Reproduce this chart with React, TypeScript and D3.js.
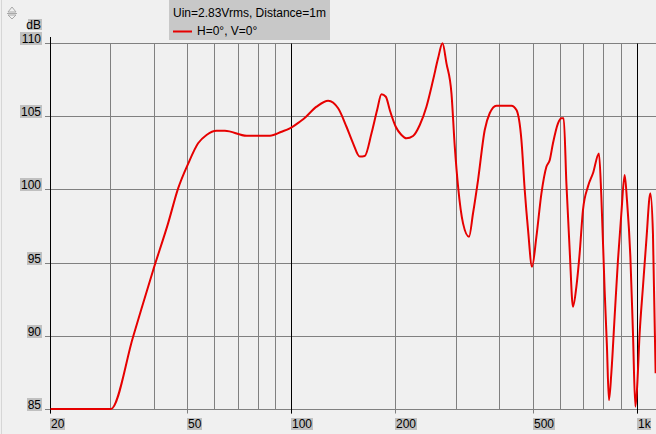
import React from "react";
import * as d3 from "d3";

const freqs = [20, 30.1, 34.9, 39.9, 44.05, 47.1, 50.4, 53.8, 56.9, 60.8, 64.3, 74.3, 86.8, 93.8, 99.1, 105.9, 108.3, 118.4, 127.9, 136.7, 144.5, 151, 157.9, 163.2, 170.7, 177.2, 182.4, 187.8, 192.8, 200.6, 208.4, 215.3, 225.1, 235.4, 246.1, 257.2, 265.9, 273.8, 281.2, 290.7, 297.2, 303.8, 314, 326.8, 335.6, 347, 362.8, 375, 392.2, 433.5, 448.2, 463.2, 473.5, 484.1, 497.1, 511.8, 529.2, 547, 559.4, 571.5, 590.9, 604.4, 613.8, 624.9, 638.7, 652.9, 667.8, 682.6, 697.8, 721.3, 745.9, 776.2, 788.7, 806.1, 818.6, 829.5, 842.9, 861.6, 881, 901.1, 921, 935.4, 956.8, 973.5, 989.1, 999.7, 1017.8, 1040.5, 1064.3, 1093, 1112, 1132];
const levels = [85, 85, 89.94, 94.5, 97.68, 100.07, 101.78, 103.15, 103.72, 104.01, 104.01, 103.67, 103.67, 103.94, 104.17, 104.62, 104.79, 105.65, 106.06, 105.54, 104.28, 103.15, 102.24, 102.28, 103.83, 105.42, 106.5, 106.33, 105.42, 104.28, 103.72, 103.49, 103.65, 104.4, 105.65, 107.47, 108.95, 109.98, 108.61, 106.56, 102.92, 100.19, 97.68, 96.77, 98.37, 100.64, 104.06, 105.2, 105.72, 105.72, 105.42, 103.37, 99.96, 97.23, 94.72, 96.77, 99.73, 101.55, 102.01, 103.15, 104.51, 104.86, 104.86, 100.41, 95.86, 91.99, 93.35, 95.63, 98.59, 100.19, 101.1, 102.46, 99.5, 93.13, 89.26, 85.61, 87.44, 91.3, 95.18, 98.37, 100.98, 99.27, 95.4, 90.17, 85.16, 86.3, 90.17, 93.35, 96.54, 99.73, 97.0, 87.44];

const yTicks = [110, 105, 100, 95, 90, 85];
const xGrid = [30, 40, 50, 60, 70, 80, 90, 200, 300, 400, 500, 600, 700, 800, 900];
const xMajor = [20, 100, 1000];
const xLabelVals = [20, 50, 100, 200, 500, 1000];
const xLabelText = ["20", "50", "100", "200", "500", "1k"];
const legendTitle = "Uin=2.83Vrms, Distance=1m";
const seriesName = "H=0°, V=0°";

const W = 656;
const H = 434;

export default function App() {
  const x = d3.scaleLog().domain([20, 1000]).range([49.5, 637]);
  const y = d3.scaleLinear().domain([85, 110]).range([409, 43]);
  const px = (v: number) => Math.round(x(v)) + 0.5;
  const py = (v: number) => Math.round(y(v)) + 0.5;
  const pts = freqs.map((f, i) => [f, levels[i]] as [number, number]);
  const line = d3
    .line<[number, number]>()
    .x((d) => x(d[0]))
    .y((d) => y(d[1]))
    .curve(d3.curveMonotoneX);
  const font = "'Liberation Sans', Arial, sans-serif";
  const left = px(20);
  const bottom = py(85);
  const charW = (s: string) => s.length * 7 + 1;

  return (
    <svg
      width={W}
      height={H}
      style={{ position: "fixed", left: 0, top: 0, display: "block" }}
      fontFamily={font}
      fontSize={12}
    >
      <rect x={0} y={0} width={W} height={H} fill="#f0f0f0" />
      <line x1={1.5} x2={1.5} y1={0} y2={H} stroke="#d6d6d6" />
      {/* scroll icon */}
      <path d="M8,12 L12,7 L16,12 Z" fill="none" stroke="#a8a8a8" />
      <line x1={7} x2={17} y1={13.5} y2={13.5} stroke="#a8a8a8" />
      <path d="M8,15 L12,19 L16,15 Z" fill="none" stroke="#a8a8a8" />

      <defs>
        <clipPath id="plot">
          <rect x={left} y={36} width={W - left} height={bottom - 36 + 1} />
        </clipPath>
      </defs>

      {/* horizontal grid */}
      {yTicks.map((t) => (
        <line key={"h" + t} x1={45} x2={W} y1={py(t)} y2={py(t)} stroke="#808080" />
      ))}
      {/* vertical grid */}
      {xGrid.map((f) => (
        <line key={"v" + f} x1={px(f)} x2={px(f)} y1={py(110)} y2={bottom} stroke="#808080" />
      ))}
      {xLabelVals.map((f) => (
        <line key={"t" + f} x1={px(f)} x2={px(f)} y1={bottom} y2={bottom + 4} stroke="#808080" />
      ))}
      {xMajor.map((f) => (
        <line
          key={"m" + f}
          x1={px(f)}
          x2={px(f)}
          y1={f === 20 ? 37 : py(110)}
          y2={bottom + 4}
          stroke="#000"
        />
      ))}

      {/* y labels */}
      <rect x={28} y={19} width={14} height={11} fill="#c0c0c0" />
      <text x={41} y={28.5} textAnchor="end" fill="#000">dB</text>
      {yTicks.map((t) => {
        const s = String(t);
        const w = charW(s);
        const yy = py(t);
        return (
          <g key={"yl" + t}>
            <rect x={42 - w} y={yy - 11.5} width={w} height={13} fill="#c0c0c0" />
            <text x={41} y={yy - 0.5} textAnchor="end" fill="#000">{s}</text>
          </g>
        );
      })}
      {/* x labels */}
      {xLabelVals.map((f, i) => {
        const s = xLabelText[i];
        const w = s === "1k" ? 14 : charW(s);
        const xx = Math.round(x(f));
        return (
          <g key={"xl" + f}>
            <rect x={xx} y={418} width={w} height={12} fill="#c0c0c0" />
            <text x={xx + 1} y={428} fill="#000">{s}</text>
          </g>
        );
      })}

      {/* curve */}
      <path
        d={line(pts) || ""}
        fill="none"
        stroke="#e60000"
        strokeWidth={2}
        strokeLinejoin="round"
        clipPath="url(#plot)"
      />

      {/* legend */}
      <rect x={169} y={0} width={161} height={40} fill="#c8c8c8" />
      <text x={173} y={17} fill="#000">{legendTitle}</text>
      <line x1={173} x2={192} y1={31.5} y2={31.5} stroke="#e60000" strokeWidth={2} />
      <text x={197} y={35} fill="#000">{seriesName}</text>
    </svg>
  );
}
